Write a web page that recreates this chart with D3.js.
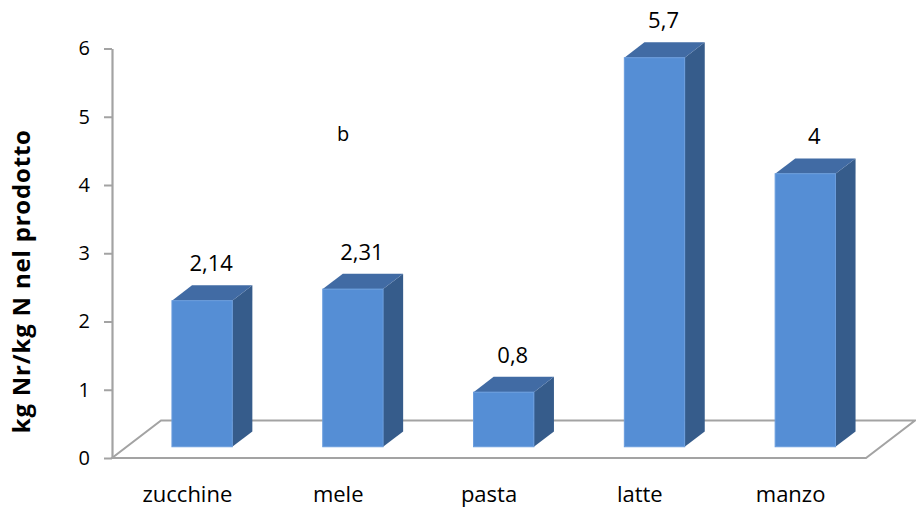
<!DOCTYPE html>
<html>
<head>
<meta charset="utf-8">
<script src="https://cdn.jsdelivr.net/npm/d3@7/dist/d3.min.js"></script>
<style>
  html, body { margin: 0; padding: 0; background: #ffffff; }
  svg { display: block; font-family: "Open Sans", "Liberation Sans", sans-serif; }
</style>
</head>
<body>
<svg id="chart" width="916" height="507"></svg>
<script>
// Data
const categories = ["zucchine", "mele", "pasta", "latte", "manzo"];
const values = [2.14, 2.31, 0.8, 5.7, 4];
const valueLabels = ["2,14", "2,31", "0,8", "5,7", "4"];
const yTicks = [0, 1, 2, 3, 4, 5, 6];
const yTitle = "kg Nr/kg N nel prodotto";
const note = "b";

const svg = d3.select("#chart");

// Front plane of the plot
const x = d3.scaleBand().domain(categories).range([112, 866]).paddingInner(0).paddingOuter(0);
const y = d3.scaleLinear().domain([0, 6]).range([458, 48.5]);

// Oblique depth: full floor depth shifts right and up
const depthX = 49, depthY = -37.5;
const proj = (px, py, d) => [px + d * depthX, py + d * depthY];
const barFront = 0.3, barBack = 0.71;
const barWidth = x.bandwidth() * 0.4;

const gridColor = "#a3a3a3";

// Floor outline
const floor = [
  proj(x.range()[0], y(0), 0),
  proj(x.range()[1], y(0), 0),
  proj(x.range()[1], y(0), 1),
  proj(x.range()[0], y(0), 1)
];
svg.append("polygon")
  .attr("points", floor.map(p => p.join(",")).join(" "))
  .attr("fill", "none")
  .attr("stroke", gridColor)
  .attr("stroke-width", 2);

// Value axis
const axis = d3.axisLeft(y).tickValues(yTicks).tickSize(8).tickSizeOuter(0).tickPadding(14)
  .tickFormat(d3.format("d"));
const gAxis = svg.append("g").attr("transform", `translate(${x.range()[0]},0)`).call(axis);
gAxis.select(".domain").attr("stroke", gridColor).attr("stroke-width", 2.2);
gAxis.selectAll(".tick line").attr("stroke", gridColor).attr("stroke-width", 2);
gAxis.selectAll(".tick text")
  .attr("fill", "#000")
  .style("font-size", "20px")
  .style("font-family", "'Open Sans', sans-serif");

// Axis title
svg.append("text")
  .attr("transform", `translate(30,${(y(0) + y(6)) / 2 + 28}) rotate(-90)`)
  .attr("text-anchor", "middle")
  .style("font-size", "24px")
  .style("font-weight", "bold")
  .style("letter-spacing", "0.8px")
  .attr("fill", "#000")
  .text(yTitle);

// 3D bars
const bars = svg.append("g");
categories.forEach((c, i) => {
  const cx = x(c) + x.bandwidth() / 2;
  const x0 = cx - barWidth / 2, x1 = cx + barWidth / 2;
  const [fx0, ftop] = proj(x0, y(values[i]), barFront);
  const [fx1, fbot] = proj(x1, y(0), barFront);
  const ddx = (barBack - barFront) * depthX, ddy = (barBack - barFront) * depthY;
  const g = bars.append("g");
  // side face
  g.append("polygon")
    .attr("points", [[fx1, ftop], [fx1 + ddx, ftop + ddy], [fx1 + ddx, fbot + ddy], [fx1, fbot]].map(p => p.join(",")).join(" "))
    .attr("fill", "#365c8b");
  // top face
  g.append("polygon")
    .attr("points", [[fx0, ftop], [fx1, ftop], [fx1 + ddx, ftop + ddy], [fx0 + ddx, ftop + ddy]].map(p => p.join(",")).join(" "))
    .attr("fill", "#416ba4");
  // front face
  g.append("rect")
    .attr("x", fx0).attr("y", ftop)
    .attr("width", fx1 - fx0).attr("height", fbot - ftop)
    .attr("fill", "#558ed5")
    .attr("stroke", "#6a9ddd")
    .attr("stroke-width", 1);
  // value label above the bar
  svg.append("text")
    .attr("x", fx0 + (fx1 - fx0) / 2 + ddx / 2 - 1)
    .attr("y", ftop + ddy - 14)
    .attr("text-anchor", "middle")
    .style("font-size", "22px")
    .attr("fill", "#000")
    .text(valueLabels[i]);
});

// Category labels
svg.append("g").selectAll("text").data(categories).join("text")
  .attr("x", d => x(d) + x.bandwidth() / 2)
  .attr("y", 502)
  .attr("text-anchor", "middle")
  .style("font-size", "22px")
  .attr("fill", "#000")
  .text(d => d);

// Free-standing note
svg.append("text")
  .attr("x", x("mele") + x.bandwidth() / 2 + 5)
  .attr("y", y(4.65))
  .attr("text-anchor", "middle")
  .style("font-size", "20px")
  .attr("fill", "#000")
  .text(note);
</script>
</body>
</html>
